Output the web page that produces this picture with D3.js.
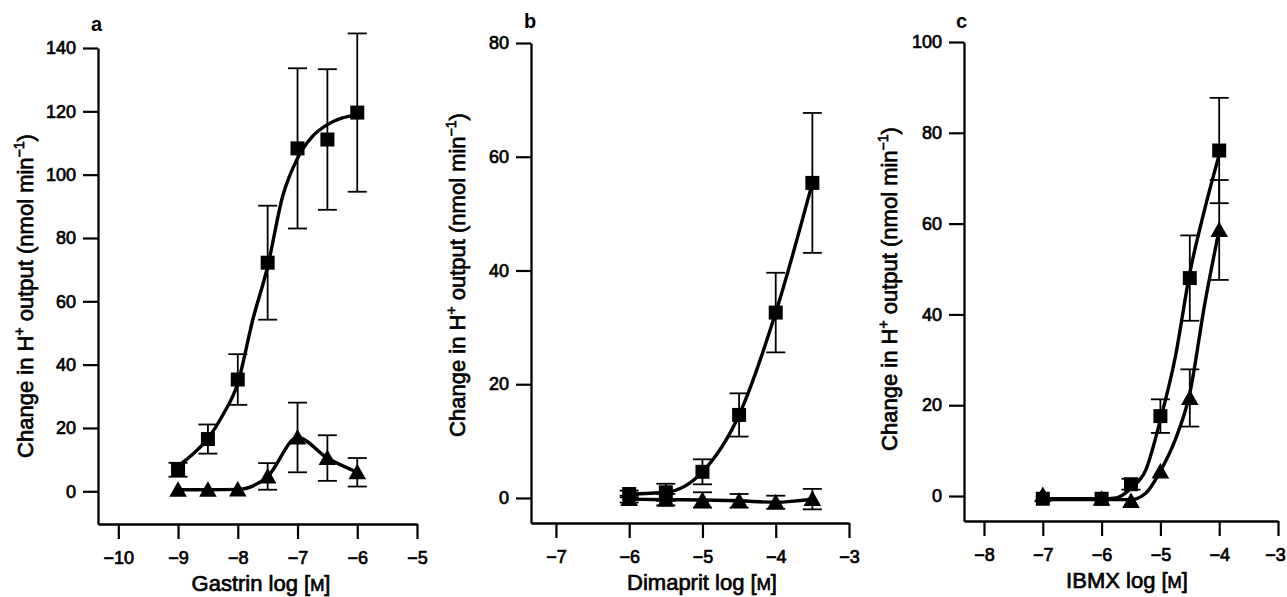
<!DOCTYPE html>
<html>
<head>
<meta charset="utf-8">
<script src="https://cdn.jsdelivr.net/npm/d3@7"></script>
<style>
  body { margin: 0; background: #fff; }
  svg { display: block; }
  text { font-family: "Liberation Sans", Arial, Helvetica, sans-serif; fill: #000; }
</style>
</head>
<body>
<svg id="chart" width="1287" height="597"></svg>
<script>
// ---- data ----
// a: gastrin
var gastrinX = [-9, -8.5, -8, -7.5, -7, -6.5, -6];
var gastrinSq = [6.8, 16.5, 35.3, 72.2, 108.3, 111.1, 119.6];
var gastrinSqErr = [2.2, 4.6, 8, 18, 25.3, 22.2, 25];
var gastrinTri = [0.5, 0.5, 0.6, 4.7, 17, 10.5, 6];
var gastrinTriErr = [0, 0, 0, 4.2, 11, 7.2, 4.5];
var gastrinFitX = [-9, -8.75, -8.5, -8.25, -8, -7.75, -7.5, -7.25, -7, -6.75, -6.5, -6.25, -6];
var gastrinFitY = [8, 11.8, 16.7, 24.1, 34.1, 54.1, 71, 93.1, 105.2, 112.1, 115.8, 117.9, 118.9];

// b: dimaprit
var dimapritX = [-6, -5.5, -5, -4.5, -4, -3.5];
var dimapritSq = [0.7, 1.0, 4.6, 14.6, 32.6, 55.4];
var dimapritSqErr = [0.6, 1.5, 2.2, 3.8, 7, 12.3];
var dimapritTri = [-0.2, -0.3, -0.35, -0.5, -0.75, -0.2];
var dimapritTriErr = [0.6, 1, 1.35, 1.2, 1.15, 1.8];

// c: IBMX
var ibmxX = [-7, -6, -5.5, -5, -4.5, -4];
var ibmxSq = [-0.6, -0.6, 2.6, 17.6, 48, 76.1];
var ibmxSqErr = [0, 0, 1.2, 3.7, 9.4, 11.6];
var ibmxTri = [0.2, -0.6, -1.1, 5.4, 21.6, 58.6];
var ibmxTriErr = [0, 0, 0, 0, 6.3, 11];
var ibmxSqFitX = [-7, -6, -5.75, -5.5, -5.25, -5, -4.75, -4.5, -4.25, -4];
var ibmxSqFitY = [-0.6, -0.6, -0.4, 1.7, 5.7, 16.8, 30.4, 49.1, 63, 75.2];
var ibmxTriFitX = [-7, -6, -5.5, -5.25, -5, -4.75, -4.5, -4.25, -4];
var ibmxTriFitY = [-0.8, -0.8, -0.8, 0.6, 5.5, 12.3, 22.6, 42, 58.7];

// tick labels
var gastrinYTicks = [0, 20, 40, 60, 80, 100, 120, 140];
var gastrinXTicks = [-10, -9, -8, -7, -6, -5];
var dimapritYTicks = [0, 20, 40, 60, 80];
var dimapritXTicks = [-7, -6, -5, -4, -3];
var ibmxYTicks = [0, 20, 40, 60, 80, 100];
var ibmxXTicks = [-8, -7, -6, -5, -4, -3];

var svg = d3.select("#chart");

function zip(xs, ys, es) {
    return xs.map(function(x, i) { return { x: x, y: ys[i], e: es ? es[i] : 0 }; });
}

var triPath = "M0,-8.5L8.8,7L-8.8,7Z";

function drawPanel(p) {
    var x = d3.scaleLinear().domain(p.xDomain).range([p.left, p.right]);
    var y = d3.scaleLinear().domain(p.yDomain).range([p.bottom, p.top]);
    var g = svg.append("g");

    // axes
    var xAxis = d3.axisBottom(x).tickValues(p.xTicks).tickSizeInner(15).tickSizeOuter(0).tickPadding(12)
        .tickFormat(d3.format("d"));
    var yAxis = d3.axisLeft(y).tickValues(p.yTicks).tickSizeInner(15).tickSizeOuter(0).tickPadding(7);

    var gx = g.append("g").attr("transform", "translate(0," + p.bottom + ")").call(xAxis);
    var gy = g.append("g").attr("transform", "translate(" + p.left + ",0)").call(yAxis);
    [gx, gy].forEach(function(a) {
        a.selectAll("path.domain").attr("stroke-width", 2.3).attr("stroke", "#000");
        a.selectAll(".tick line").attr("stroke-width", 2.2).attr("stroke", "#000");
        a.selectAll(".tick text")
            .attr("font-size", 18)
            .attr("font-family", "Liberation Sans, Arial, sans-serif")
            .attr("stroke", "#000").attr("stroke-width", 0.7)
            .attr("fill", "#000");
    });
    // keep the last x label inside the picture
    gx.selectAll(".tick text").filter(function(d) { return x(d) > 1270; }).attr("dx", -3);

    var line = d3.line().x(function(d) { return x(d.x); }).y(function(d) { return y(d.y); })
        .curve(d3.curveMonotoneX);

    p.series.forEach(function(s) {
        g.append("path").datum(s.fit)
            .attr("d", line)
            .attr("fill", "none").attr("stroke", "#000").attr("stroke-width", 3.4)
            .attr("stroke-linejoin", "round");
    });

    p.series.forEach(function(s) {
        var eb = g.append("g").selectAll("g").data(s.points.filter(function(d) { return d.e > 0; }))
            .join("g").attr("stroke", "#000").attr("stroke-width", 1.8);
        eb.append("line")
            .attr("x1", function(d) { return x(d.x); }).attr("x2", function(d) { return x(d.x); })
            .attr("y1", function(d) { return y(d.y + d.e); }).attr("y2", function(d) { return y(d.y - d.e); });
        eb.append("line")
            .attr("x1", function(d) { return x(d.x) - 9.5; }).attr("x2", function(d) { return x(d.x) + 9.5; })
            .attr("y1", function(d) { return y(d.y + d.e); }).attr("y2", function(d) { return y(d.y + d.e); });
        eb.append("line")
            .attr("x1", function(d) { return x(d.x) - 9.5; }).attr("x2", function(d) { return x(d.x) + 9.5; })
            .attr("y1", function(d) { return y(d.y - d.e); }).attr("y2", function(d) { return y(d.y - d.e); });
    });

    p.series.forEach(function(s) {
        var m = g.append("g").selectAll("path").data(s.points).join("path")
            .attr("fill", "#000")
            .attr("transform", function(d) { return "translate(" + x(d.x) + "," + y(d.y) + ")"; });
        if (s.shape === "square") m.attr("d", "M-7,-7H7V7H-7Z");
        else m.attr("d", triPath);
    });

    // x title
    var xt = g.append("text")
        .attr("x", p.xTitleX).attr("y", p.xTitleY)
        .attr("text-anchor", "middle").attr("font-size", 22)
        .attr("stroke", "#000").attr("stroke-width", 0.7);
    xt.append("tspan").text(p.xName + " log [");
    xt.append("tspan").attr("font-size", 17).text("M");
    xt.append("tspan").text("]");

    // y title
    var yt = g.append("text")
        .attr("transform", "translate(" + p.yTitleX + "," + p.yTitleY + ") rotate(-90)")
        .attr("text-anchor", "middle").attr("font-size", 22)
        .attr("stroke", "#000").attr("stroke-width", 0.7);
    yt.append("tspan").text("Change in H");
    yt.append("tspan").attr("font-size", 14).attr("dy", -9).text("+");
    yt.append("tspan").attr("dy", 9).text(" output (nmol min");
    yt.append("tspan").attr("font-size", 14).attr("dy", -9).text("\u22121");
    yt.append("tspan").attr("dy", 9).text(")");

    // panel letter
    g.append("text").attr("x", p.labelX).attr("y", p.labelY)
        .attr("font-size", 20).attr("font-weight", "bold").text(p.label);
}

drawPanel({
    label: "a", labelX: 91, labelY: 31,
    left: 98, right: 417, top: 48, bottom: 524,
    xDomain: [-10.34, -5], yDomain: [-10.33, 140],
    xTicks: gastrinXTicks, yTicks: gastrinYTicks,
    xName: "Gastrin", xTitleX: 261, xTitleY: 591,
    yTitleX: 33, yTitleY: 296,
    series: [
        { shape: "square", points: zip(gastrinX, gastrinSq, gastrinSqErr), fit: zip(gastrinFitX, gastrinFitY) },
        { shape: "triangle", points: zip(gastrinX, gastrinTri, gastrinTriErr), fit: zip(gastrinX, gastrinTri) }
    ]
});

drawPanel({
    label: "b", labelX: 524, labelY: 28,
    left: 531, right: 849, top: 43, bottom: 523,
    xDomain: [-7.34, -3], yDomain: [-4.4, 80],
    xTicks: dimapritXTicks, yTicks: dimapritYTicks,
    xName: "Dimaprit", xTitleX: 702, xTitleY: 590,
    yTitleX: 465, yTitleY: 275,
    series: [
        { shape: "square", points: zip(dimapritX, dimapritSq, dimapritSqErr), fit: zip(dimapritX, dimapritSq) },
        { shape: "triangle", points: zip(dimapritX, dimapritTri, dimapritTriErr), fit: zip(dimapritX, dimapritTri) }
    ]
});

drawPanel({
    label: "c", labelX: 956, labelY: 28,
    left: 964, right: 1278, top: 42, bottom: 521,
    xDomain: [-8.34, -3], yDomain: [-5.5, 100],
    xTicks: ibmxXTicks, yTicks: ibmxYTicks,
    xName: "IBMX", xTitleX: 1127, xTitleY: 588,
    yTitleX: 897, yTitleY: 289,
    series: [
        { shape: "square", points: zip(ibmxX, ibmxSq, ibmxSqErr), fit: zip(ibmxSqFitX, ibmxSqFitY) },
        { shape: "triangle", points: zip(ibmxX, ibmxTri, ibmxTriErr), fit: zip(ibmxTriFitX, ibmxTriFitY) }
    ]
});
</script>
</body>
</html>
